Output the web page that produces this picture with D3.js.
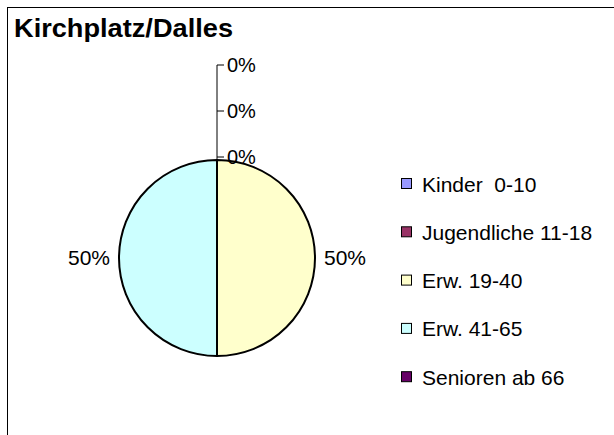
<!DOCTYPE html>
<html>
<head>
<meta charset="utf-8">
<script src="https://cdn.jsdelivr.net/npm/d3@7"></script>
<style>
  body { margin: 0; background: #fff; }
  text { font-family: "Liberation Sans", Arial, sans-serif; fill: #000; white-space: pre; }
</style>
</head>
<body>
<svg id="chart" width="614" height="435"></svg>
<script>
// Kirchplatz/Dalles - Anteile nach Altersgruppe
var title = "Kirchplatz/Dalles";
var categories = ["Kinder  0-10", "Jugendliche 11-18", "Erw. 19-40", "Erw. 41-65", "Senioren ab 66"];
var shares = [0, 0, 0.5, 0.5, 0];
var colors = ["#9999ff", "#993366", "#ffffcc", "#ccffff", "#660066"];

var svg = d3.select("#chart");
var cx = 217, cy = 258, r = 98;

// frame (runs off the right and bottom edge like the original)
svg.append("rect")
  .attr("x", 7.5).attr("y", 7.5)
  .attr("width", 700).attr("height", 600)
  .attr("fill", "none").attr("stroke", "#000").attr("stroke-width", 1);

svg.append("text")
  .attr("x", 14).attr("y", 37)
  .attr("font-size", 26).attr("font-weight", "bold")
  .attr("textLength", 219).attr("lengthAdjust", "spacingAndGlyphs")
  .text(title);

var pie = d3.pie().sort(null).value(function (d) { return d; });
var arcs = pie(shares);
var arc = d3.arc().innerRadius(0).outerRadius(r);
var fmt = d3.format(".0%");

var g = svg.append("g").attr("transform", "translate(" + cx + "," + cy + ")");

g.selectAll("path.slice")
  .data(arcs.filter(function (d) { return d.value > 0; }))
  .enter().append("path")
    .attr("class", "slice")
    .attr("d", arc)
    .attr("fill", function (d) { return colors[d.index]; })
    .attr("stroke", "#000").attr("stroke-width", 2);

// labels for visible slices, outside the rim
var labelR = r + 9;
g.selectAll("text.big")
  .data(arcs.filter(function (d) { return d.value > 0; }))
  .enter().append("text")
    .attr("class", "big")
    .attr("font-size", 21)
    .attr("dy", "0.35em")
    .attr("x", function (d) {
      var a = (d.startAngle + d.endAngle) / 2;
      return Math.sin(a) * labelR;
    })
    .attr("y", function (d) {
      var a = (d.startAngle + d.endAngle) / 2;
      return -Math.cos(a) * labelR;
    })
    .attr("text-anchor", function (d) {
      var a = (d.startAngle + d.endAngle) / 2;
      return Math.sin(a) > 0 ? "start" : "end";
    })
    .text(function (d) { return fmt(d.value); });

// empty slices sit at the top, stacked above with a leader line
var zeros = arcs.filter(function (d) { return d.value === 0; });
var step = 46;
var base = -r - 3;
g.append("line")
  .attr("x1", 0).attr("x2", 0)
  .attr("y1", base - (zeros.length - 1) * step).attr("y2", -r)
  .attr("stroke", "#000").attr("stroke-width", 1);

var z = g.selectAll("g.zero")
  .data(zeros)
  .enter().append("g")
    .attr("class", "zero")
    .attr("transform", function (d, i) { return "translate(0," + (base - i * step) + ")"; });
z.append("line")
  .attr("x1", 0).attr("x2", 7)
  .attr("stroke", "#000").attr("stroke-width", 1);
z.append("text")
  .attr("x", 10).attr("dy", "0.35em")
  .attr("font-size", 20)
  .text(function (d) { return fmt(d.value); });

// legend
var legend = svg.append("g").attr("transform", "translate(401,184)");
var row = legend.selectAll("g")
  .data(categories)
  .enter().append("g")
    .attr("transform", function (d, i) { return "translate(0," + (i * 48.3) + ")"; });
row.append("rect")
  .attr("x", 0.5).attr("y", -5.5)
  .attr("width", 10).attr("height", 10)
  .attr("fill", function (d, i) { return colors[i]; })
  .attr("stroke", "#000").attr("stroke-width", 1);
row.append("text")
  .attr("x", 21).attr("dy", "0.36em")
  .attr("font-size", 21)
  .text(function (d) { return d; });
</script>
</body>
</html>
